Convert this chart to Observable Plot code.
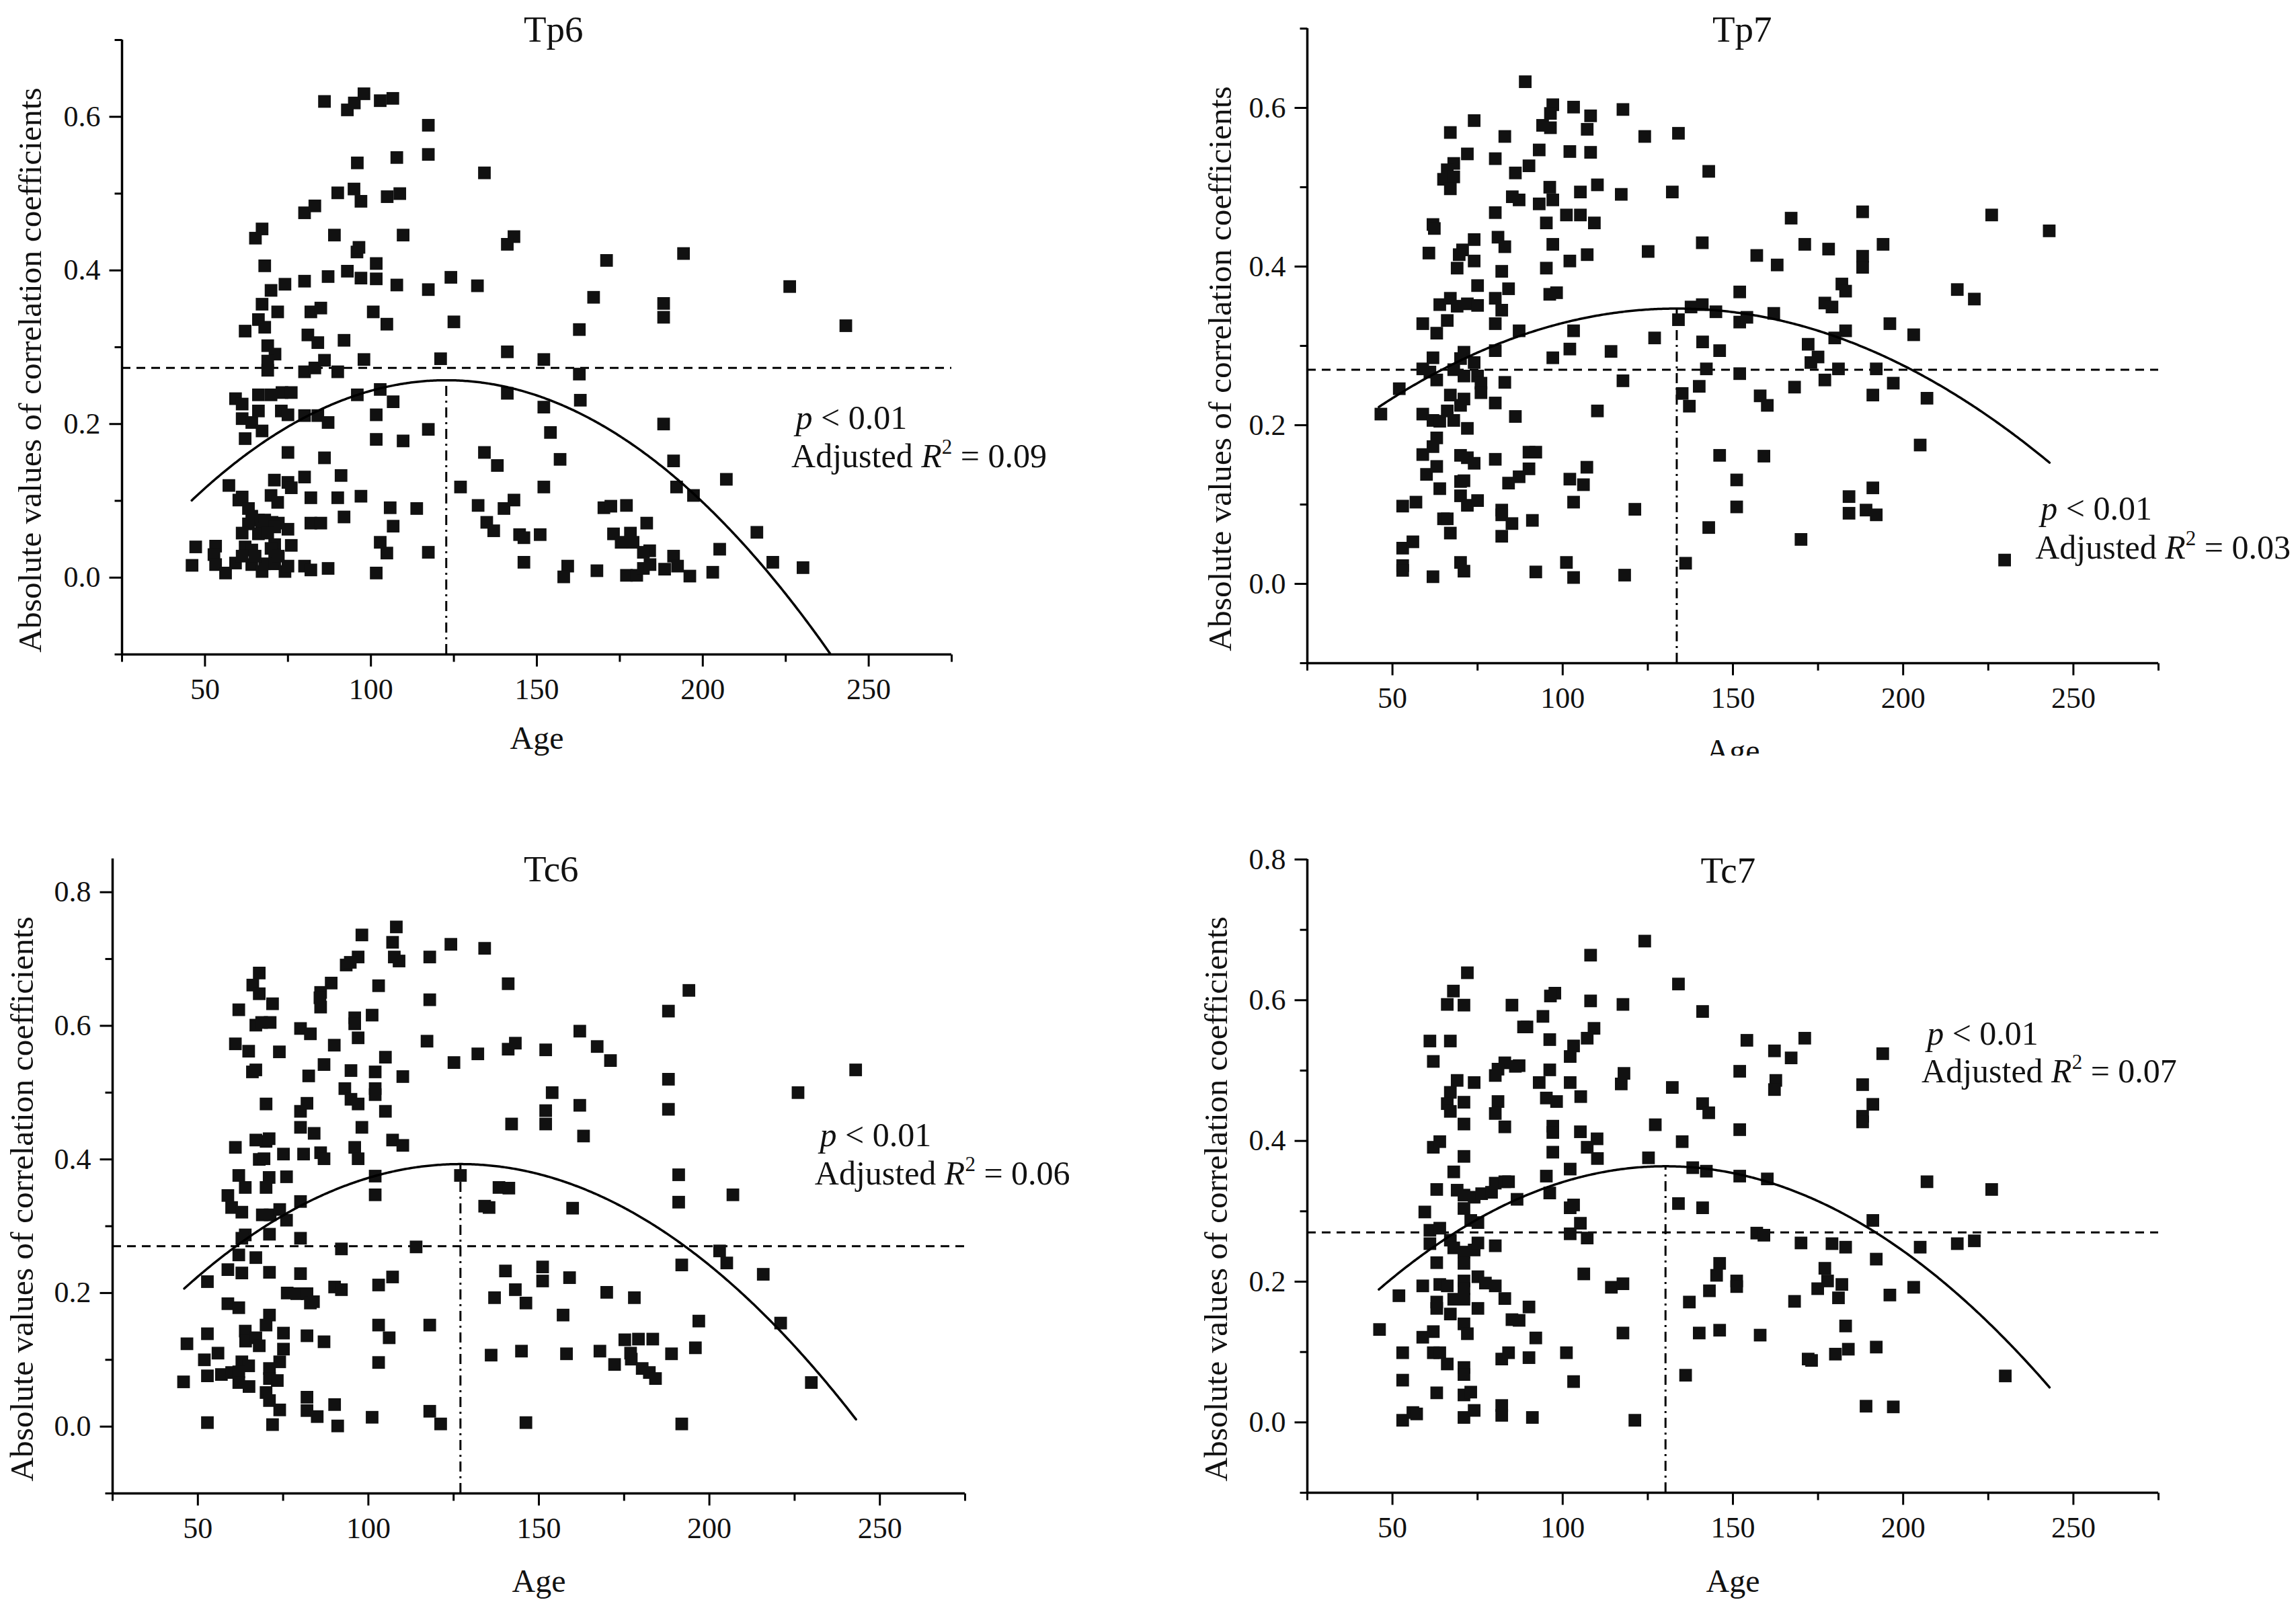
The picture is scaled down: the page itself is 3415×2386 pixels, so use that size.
<!DOCTYPE html>
<html>
<head>
<meta charset="utf-8">
<script src="https://cdn.jsdelivr.net/npm/d3@7"></script>
<script src="https://cdn.jsdelivr.net/npm/@observablehq/plot@0.6"></script>
<style>
html, body { margin: 0; padding: 0; background: #fff; }
#root { position: relative; width: 3415px; height: 2386px; overflow: hidden; background: #fff; }
.panel { position: absolute; }
.panel svg { display: block; overflow: hidden; }
</style>
</head>
<body>
<div id="root"></div>
<script>
// ---------------- DATA (age, absolute correlation) ----------------
const tp6 = [
[86.0,0.620],[92.9,0.609],[95.0,0.618],[97.9,0.630],[102.8,0.621],[106.6,0.624],[117.3,0.589],[117.3,0.551],
[95.9,0.540],[107.8,0.547],[90.0,0.501],[94.9,0.506],[97.0,0.490],[104.9,0.496],[108.7,0.500],[80.0,0.475],
[83.1,0.484],[65.2,0.442],[67.2,0.454],[89.0,0.446],[109.7,0.446],[95.8,0.424],[96.4,0.430],[68.0,0.406],
[101.6,0.409],[92.9,0.399],[97.0,0.390],[101.6,0.389],[107.8,0.381],[80.0,0.386],[87.1,0.392],[69.9,0.374],
[74.1,0.382],[117.3,0.375],[67.2,0.356],[71.9,0.346],[81.9,0.346],[84.9,0.351],[100.7,0.346],[104.8,0.330],
[62.1,0.321],[66.1,0.336],[68.0,0.326],[81.0,0.316],[84.0,0.306],[91.9,0.309],[68.9,0.302],[71.1,0.291],
[68.9,0.282],[68.9,0.270],[80.0,0.268],[83.1,0.273],[86.0,0.283],[90.0,0.268],[97.9,0.284],[59.2,0.233],
[61.2,0.226],[66.1,0.238],[69.9,0.238],[73.2,0.241],[76.0,0.241],[95.9,0.238],[102.8,0.245],[106.7,0.229],
[61.2,0.207],[64.1,0.202],[66.1,0.217],[67.2,0.191],[73.0,0.217],[75.0,0.212],[80.0,0.211],[84.0,0.211],
[87.1,0.202],[62.1,0.181],[101.6,0.212],[101.6,0.180],[109.7,0.178],[117.3,0.193],[75.0,0.163],[86.0,0.156],
[91.0,0.133],[80.0,0.131],[70.9,0.127],[75.0,0.124],[76.0,0.117],[57.2,0.120],[61.2,0.105],[69.9,0.107],
[71.9,0.098],[81.9,0.104],[90.0,0.104],[97.0,0.106],[60.2,0.101],[105.8,0.091],[113.8,0.090],[91.9,0.079],
[81.9,0.071],[84.9,0.071],[106.7,0.067],[63.1,0.090],[64.1,0.080],[66.1,0.075],[68.0,0.075],[70.2,0.072],
[72.1,0.071],[63.1,0.070],[67.0,0.064],[71.0,0.066],[75.0,0.063],[61.2,0.058],[66.1,0.057],[68.9,0.058],
[76.0,0.042],[62.1,0.040],[64.1,0.036],[47.2,0.040],[53.2,0.041],[52.7,0.030],[71.0,0.043],[71.0,0.030],
[102.8,0.046],[104.8,0.032],[117.3,0.033],[46.1,0.016],[53.2,0.017],[56.2,0.006],[59.2,0.019],[64.1,0.017],
[67.2,0.008],[68.0,0.018],[71.0,0.018],[74.1,0.008],[75.0,0.015],[80.0,0.015],[81.9,0.010],[87.1,0.012],
[101.6,0.006],[65.1,0.028],[61.2,0.028],[69.9,0.038],[72.1,0.028],
[134.2,0.527],[143.1,0.444],[141.1,0.434],[171.0,0.413],[194.2,0.422],[124.1,0.391],[132.1,0.380],[167.1,0.365],
[188.2,0.357],[188.2,0.339],[226.2,0.379],[243.1,0.328],[125.0,0.333],[162.8,0.323],[141.1,0.294],[121.0,0.285],
[152.1,0.284],[162.8,0.265],[141.1,0.240],[152.1,0.222],[163.1,0.231],[154.1,0.189],[188.2,0.200],[134.2,0.163],
[138.1,0.146],[157.0,0.154],[191.2,0.152],[127.0,0.118],[152.1,0.118],[192.1,0.118],[197.2,0.107],[207.1,0.128],
[132.3,0.094],[140.1,0.090],[143.1,0.101],[170.2,0.091],[172.3,0.093],[177.0,0.094],[134.9,0.072],[137.0,0.061],
[144.8,0.056],[146.1,0.052],[151.0,0.056],[183.1,0.071],[173.1,0.057],[175.4,0.046],[178.2,0.058],[179.0,0.046],
[184.0,0.035],[182.1,0.033],[205.1,0.037],[216.3,0.059],[146.1,0.020],[159.3,0.015],[158.1,0.001],[168.1,0.009],
[177.0,0.003],[180.1,0.003],[182.1,0.012],[184.1,0.017],[188.5,0.011],[191.2,0.028],[192.4,0.015],[196.1,0.002],
[203.0,0.007],[221.1,0.020],[230.2,0.013]
];

const tp7 = [
[89.0,0.633],[97.1,0.604],[96.4,0.593],[94.1,0.578],[96.4,0.575],[103.2,0.601],[108.2,0.590],[107.2,0.573],
[117.7,0.598],[74.0,0.584],[67.0,0.569],[83.0,0.564],[72.0,0.542],[80.2,0.536],[93.1,0.547],[102.1,0.545],
[108.2,0.544],[68.0,0.530],[66.1,0.522],[65.0,0.510],[68.0,0.513],[67.0,0.498],[86.1,0.518],[90.1,0.527],
[96.2,0.500],[97.1,0.484],[105.2,0.494],[110.2,0.503],[117.2,0.491],[85.2,0.488],[87.2,0.484],[93.1,0.479],
[80.2,0.468],[95.2,0.455],[101.1,0.465],[105.2,0.465],[109.3,0.455],[61.9,0.453],[62.3,0.448],[60.7,0.417],
[74.0,0.434],[81.0,0.437],[83.0,0.425],[70.6,0.421],[69.6,0.415],[74.0,0.407],[69.0,0.398],[82.1,0.394],
[97.1,0.428],[95.2,0.398],[102.1,0.407],[107.2,0.415],[75.0,0.376],[84.1,0.372],[96.2,0.365],[98.2,0.367],
[63.9,0.352],[67.0,0.360],[69.0,0.350],[72.0,0.353],[75.0,0.351],[80.2,0.360],[82.1,0.345],[58.9,0.328],
[63.0,0.316],[66.1,0.332],[80.2,0.328],[87.2,0.319],[103.2,0.319],[80.2,0.294],[61.9,0.285],[71.0,0.292],
[70.0,0.284],[74.0,0.279],[97.1,0.285],[102.1,0.296],[114.2,0.293],[58.9,0.271],[61.0,0.267],[63.0,0.257],
[68.0,0.270],[71.0,0.262],[75.0,0.262],[76.0,0.253],[76.0,0.241],[83.0,0.254],[117.7,0.256],[46.6,0.214],
[52.0,0.246],[67.0,0.238],[71.0,0.233],[70.0,0.225],[80.2,0.228],[86.1,0.211],[110.2,0.218],[58.9,0.214],
[61.9,0.206],[63.9,0.205],[66.1,0.218],[68.0,0.206],[72.0,0.196],[63.0,0.184],[61.9,0.173],[58.9,0.163],
[70.0,0.162],[72.0,0.159],[74.0,0.152],[80.2,0.157],[90.1,0.166],[92.1,0.166],[63.0,0.148],[60.0,0.138],
[70.0,0.129],[71.0,0.130],[90.1,0.145],[87.2,0.135],[84.1,0.127],[107.1,0.147],[102.1,0.132],[106.1,0.125],
[63.9,0.120],[53.0,0.098],[56.9,0.103],[70.0,0.111],[72.0,0.099],[75.0,0.105],[82.1,0.093],[82.1,0.087],
[85.1,0.076],[103.2,0.103],[91.1,0.080],[65.0,0.082],[66.1,0.082],[67.0,0.064],[82.1,0.060],[53.0,0.045],
[56.0,0.053],[53.0,0.023],[53.0,0.017],[61.9,0.009],[70.0,0.027],[71.0,0.016],[92.1,0.015],[101.1,0.027],
[103.2,0.008],[118.2,0.011],
[124.1,0.564],[134.0,0.568],[142.9,0.520],[132.2,0.494],[167.1,0.461],[188.1,0.469],[226.0,0.465],[242.9,0.445],
[125.1,0.419],[141.0,0.430],[157.0,0.414],[163.0,0.402],[171.1,0.428],[178.1,0.422],[188.1,0.413],[188.1,0.399],
[194.1,0.428],[152.0,0.368],[182.0,0.378],[183.1,0.369],[215.9,0.371],[220.9,0.359],[177.0,0.354],[179.1,0.349],
[137.7,0.349],[141.0,0.352],[145.0,0.343],[134.0,0.333],[152.0,0.330],[154.1,0.336],[162.0,0.341],[183.1,0.319],
[179.9,0.310],[127.0,0.310],[141.1,0.305],[146.1,0.294],[172.1,0.302],[175.0,0.286],[172.9,0.279],[196.1,0.328],
[203.1,0.314],[142.2,0.271],[152.0,0.265],[181.0,0.271],[192.1,0.271],[135.1,0.240],[137.2,0.224],[140.1,0.249],
[158.0,0.237],[160.1,0.225],[168.1,0.248],[177.0,0.257],[191.1,0.238],[197.1,0.253],[207.0,0.234],[205.0,0.175],
[146.1,0.162],[159.1,0.161],[151.1,0.131],[151.1,0.097],[121.2,0.094],[184.1,0.110],[184.1,0.089],[189.1,0.093],
[191.1,0.121],[192.1,0.087],[142.9,0.071],[170.0,0.056],[136.1,0.026],[229.8,0.030]
];

const tc6 = [
[108.2,0.748],[98.1,0.736],[107.1,0.725],[107.6,0.703],[109.0,0.697],[97.0,0.703],[93.5,0.691],[94.7,0.695],
[68.0,0.679],[66.1,0.661],[68.0,0.648],[71.9,0.633],[89.1,0.664],[86.0,0.650],[85.8,0.642],[86.0,0.628],
[103.0,0.660],[62.0,0.624],[67.0,0.601],[68.7,0.605],[71.2,0.605],[96.0,0.612],[96.0,0.603],[101.1,0.616],
[80.1,0.596],[83.0,0.588],[97.0,0.582],[61.0,0.573],[64.9,0.562],[73.9,0.561],[90.0,0.571],[105.0,0.553],
[66.0,0.531],[67.0,0.534],[82.5,0.525],[87.0,0.542],[94.9,0.533],[102.0,0.531],[110.1,0.524],[102.0,0.506],
[102.0,0.497],[93.1,0.506],[94.9,0.490],[97.0,0.483],[70.0,0.483],[80.1,0.472],[82.0,0.484],[105.0,0.472],
[80.1,0.448],[84.1,0.439],[98.1,0.448],[61.0,0.418],[67.0,0.429],[70.0,0.427],[70.9,0.431],[107.1,0.429],
[110.1,0.421],[75.1,0.408],[81.0,0.408],[86.0,0.410],[87.0,0.401],[96.0,0.418],[97.0,0.401],[68.0,0.400],
[69.4,0.401],[62.0,0.376],[63.9,0.358],[70.9,0.373],[70.0,0.358],[76.0,0.374],[102.0,0.375],[102.0,0.347],
[58.8,0.346],[59.9,0.328],[62.9,0.321],[68.9,0.317],[71.2,0.317],[74.0,0.325],[76.0,0.309],[80.1,0.337],
[63.9,0.287],[62.9,0.282],[71.0,0.288],[80.1,0.282],[92.1,0.266],[114.0,0.269],[62.0,0.257],[67.0,0.253],
[58.8,0.235],[62.9,0.230],[71.0,0.231],[80.1,0.229],[107.1,0.224],[52.8,0.217],[103.0,0.212],[76.2,0.200],
[79.0,0.199],[82.0,0.199],[83.0,0.185],[83.9,0.187],[90.1,0.209],[92.1,0.205],[58.8,0.184],[62.0,0.178],
[71.0,0.167],[70.0,0.152],[103.0,0.152],[106.1,0.133],[52.8,0.139],[63.9,0.143],[64.0,0.128],[67.0,0.133],
[68.0,0.121],[75.1,0.140],[82.0,0.136],[87.0,0.127],[46.8,0.124],[55.9,0.110],[51.9,0.100],[75.1,0.116],
[74.0,0.097],[62.9,0.097],[64.9,0.091],[103.0,0.096],[52.8,0.076],[56.9,0.078],[59.9,0.081],[62.0,0.082],
[62.0,0.066],[65.0,0.060],[71.0,0.087],[71.0,0.072],[73.3,0.069],[45.8,0.067],[70.0,0.051],[71.0,0.039],
[74.0,0.025],[82.0,0.044],[82.0,0.024],[85.0,0.015],[90.1,0.033],[91.0,0.001],[101.1,0.014],[52.8,0.006],
[71.9,0.003],
[118.0,0.703],[124.2,0.722],[134.1,0.716],[141.0,0.663],[118.0,0.639],[194.0,0.653],[188.0,0.622],[117.2,0.577],
[125.1,0.545],[132.1,0.558],[141.0,0.565],[143.1,0.574],[152.0,0.564],[162.0,0.592],[167.1,0.569],[171.0,0.548],
[188.0,0.520],[188.0,0.475],[226.0,0.500],[242.9,0.534],[153.9,0.500],[152.0,0.473],[152.0,0.453],[162.0,0.481],
[142.0,0.453],[163.1,0.435],[127.0,0.376],[191.0,0.377],[191.0,0.336],[206.9,0.347],[138.3,0.358],[141.2,0.357],
[134.1,0.330],[135.4,0.328],[159.9,0.327],[203.0,0.263],[205.1,0.245],[191.9,0.242],[215.8,0.228],[140.2,0.233],
[151.1,0.239],[151.1,0.218],[159.0,0.223],[137.0,0.193],[143.1,0.205],[146.2,0.185],[169.9,0.201],[178.0,0.193],
[157.1,0.167],[196.9,0.158],[118.0,0.152],[220.9,0.155],[229.9,0.066],[136.0,0.107],[144.9,0.113],[158.1,0.109],
[167.9,0.113],[175.2,0.130],[179.2,0.131],[183.4,0.131],[176.9,0.110],[172.2,0.093],[177.1,0.101],[180.3,0.087],
[182.4,0.081],[184.2,0.072],[188.9,0.109],[195.9,0.118],[118.0,0.023],[121.2,0.004],[146.2,0.006],[191.9,0.004]
];

const tc7 = [
[108.2,0.664],[72.0,0.639],[67.9,0.613],[66.1,0.594],[71.0,0.593],[85.1,0.593],[97.7,0.610],[96.4,0.606],
[108.2,0.599],[117.7,0.594],[89.5,0.562],[88.5,0.562],[94.2,0.577],[109.2,0.560],[107.2,0.546],[61.0,0.542],
[67.0,0.542],[96.2,0.544],[62.0,0.513],[103.2,0.535],[102.2,0.520],[83.0,0.511],[86.1,0.506],[87.2,0.507],
[81.0,0.502],[80.2,0.493],[96.2,0.501],[69.0,0.486],[74.0,0.483],[93.1,0.483],[102.2,0.483],[118.0,0.496],
[117.2,0.481],[67.0,0.469],[66.1,0.453],[71.0,0.455],[67.0,0.442],[81.0,0.456],[80.2,0.439],[95.2,0.461],
[98.2,0.456],[105.3,0.463],[71.0,0.424],[83.0,0.420],[97.1,0.421],[97.1,0.412],[105.2,0.413],[110.1,0.403],
[62.0,0.391],[63.9,0.399],[107.2,0.391],[97.1,0.384],[110.2,0.375],[71.0,0.378],[68.0,0.356],[102.2,0.360],
[95.2,0.350],[63.0,0.331],[69.0,0.330],[71.0,0.323],[74.0,0.320],[76.2,0.325],[79.1,0.327],[80.2,0.340],
[83.0,0.342],[84.1,0.342],[96.2,0.326],[86.6,0.317],[102.2,0.305],[103.2,0.309],[59.5,0.299],[71.0,0.304],
[73.0,0.287],[75.1,0.284],[61.0,0.273],[63.9,0.276],[105.2,0.283],[102.2,0.268],[107.2,0.262],[61.0,0.254],
[67.0,0.259],[68.0,0.248],[71.0,0.242],[74.0,0.245],[75.1,0.255],[80.2,0.251],[71.0,0.226],[63.0,0.227],
[106.2,0.211],[58.9,0.194],[63.9,0.196],[66.1,0.194],[71.0,0.201],[71.0,0.190],[75.1,0.207],[77.3,0.198],
[80.2,0.194],[114.3,0.192],[117.7,0.197],[51.9,0.180],[63.0,0.171],[63.0,0.162],[68.0,0.175],[71.0,0.175],
[75.1,0.162],[83.0,0.176],[67.0,0.154],[90.1,0.164],[85.1,0.146],[87.2,0.145],[71.0,0.140],[72.0,0.126],
[46.2,0.132],[58.9,0.121],[62.0,0.129],[92.1,0.120],[117.7,0.127],[53.0,0.099],[62.0,0.099],[63.9,0.099],
[66.1,0.083],[82.1,0.090],[84.1,0.099],[90.1,0.092],[101.1,0.099],[71.0,0.078],[71.0,0.068],[53.0,0.060],
[103.2,0.058],[63.0,0.042],[71.0,0.039],[73.0,0.043],[53.0,0.003],[56.0,0.014],[57.1,0.012],[71.0,0.007],
[74.0,0.017],[82.1,0.024],[82.1,0.010],[91.1,0.007],
[124.1,0.684],[134.0,0.623],[141.1,0.584],[154.1,0.543],[171.1,0.546],[162.2,0.528],[167.1,0.518],[194.0,0.524],
[132.2,0.476],[152.0,0.499],[162.6,0.486],[162.2,0.473],[188.1,0.480],[191.1,0.452],[188.1,0.435],[188.1,0.427],
[141.1,0.453],[142.9,0.440],[152.0,0.416],[127.2,0.423],[135.1,0.399],[125.2,0.376],[138.2,0.362],[142.2,0.357],
[152.0,0.350],[160.1,0.346],[207.0,0.342],[226.0,0.331],[134.0,0.311],[141.1,0.305],[191.1,0.287],[157.0,0.269],
[159.1,0.266],[170.0,0.255],[179.1,0.254],[183.1,0.249],[205.0,0.249],[215.9,0.254],[220.9,0.258],[192.1,0.232],
[146.1,0.226],[145.2,0.209],[151.1,0.201],[151.1,0.193],[143.1,0.187],[177.0,0.219],[177.8,0.201],[174.9,0.190],
[182.0,0.196],[181.0,0.177],[196.1,0.181],[203.1,0.192],[137.2,0.171],[168.1,0.172],[140.1,0.127],[146.1,0.131],
[158.0,0.124],[183.1,0.137],[192.1,0.107],[183.9,0.104],[180.1,0.097],[172.1,0.090],[173.1,0.088],[136.1,0.067],
[230.0,0.066],[121.2,0.003],[189.1,0.023],[197.1,0.022]
];

// Quadratic fit (vertex form) for each panel: Tp6, Tp7, Tc6, Tc7
const panelNames   = ["Tp6", "Tp7", "Tc6", "Tc7"];
const fitVertexAge = [122.7, 133.5, 127.0, 130.2];
const fitVertexAbs = [0.257, 0.347, 0.393, 0.364];
const fitCurvature = [2.66e-5, 1.62e-5, 2.84e-5, 2.47e-5];
const fitAgeRange  = [46, 243];
const thresholds   = [0.273, 0.27, 0.27, 0.27];
const adjustedR2   = ["0.09", "0.03", "0.06", "0.07"];
const pValueText   = "p < 0.01";

// Axis ticks
const xTicksMajor = [50, 100, 150, 200, 250];
const xTicksMinor = [25, 75, 125, 175, 225, 275];
const yTicksMajorP = [0, 0.2, 0.4, 0.6];
const yTicksMajorC = [0, 0.2, 0.4, 0.6, 0.8];
const yTicksMinor  = [-0.1, 0.1, 0.3, 0.5, 0.7];
const xDomain = [25, 275];

// ---------------- LAYOUT ----------------
const FONT = "'Liberation Serif', 'Times New Roman', Times, serif";
const layout = [
  {data: tp6, left: 0,    top: 0,    width: 1708, height: 1193, mL: 181, mT: 59, mR: 293, mB: 220,
   yDomain: [-0.1, 0.7], yMajor: yTicksMajorP, titleX: 155, titleDy: 2, yLabDx: -136, ageDy: 140,
   ann: [[228.0, 0.194], [226.7, 0.144]]},
  {data: tp7, left: 1707, top: 0,    width: 1708, height: 1124, mL: 237, mT: 42, mR: 205, mB: 138,
   yDomain: [-0.1, 0.7], yMajor: yTicksMajorP, titleX: 152.7, titleDy: 19, yLabDx: -129, ageDy: 146,
   ann: [[240.4, 0.081], [238.8, 0.032]]},
  {data: tc6, left: 0,    top: 1193, width: 1708, height: 1193, mL: 167, mT: 84, mR: 273, mB: 165,
   yDomain: [-0.1, 0.85], yMajor: yTicksMajorC, titleX: 153.6, titleDy: 33, yLabDx: -134, ageDy: 146,
   ann: [[232.4, 0.420], [230.9, 0.362]]},
  {data: tc7, left: 1707, top: 1193, width: 1708, height: 1193, mL: 237, mT: 85, mR: 205, mB: 166,
   yDomain: [-0.1, 0.8], yMajor: yTicksMajorC, titleX: 148.6, titleDy: 34, yLabDx: -135, ageDy: 147,
   ann: [[207.0, 0.537], [205.4, 0.483]]}
];

function lineSymbol(dx, dy) {
  return { draw(ctx) { ctx.moveTo(0, 0); ctx.lineTo(dx, dy); } };
}

function styleAnnotations(svg, fs) {
  d3.select(svg).selectAll("text").each(function () {
    const t = this.textContent;
    const s = d3.select(this);
    if (t.startsWith("p < ")) {
      s.text(null);
      s.append("tspan").attr("font-style", "italic").text("p");
      s.append("tspan").text(" " + t.slice(2));
    } else if (t.startsWith("Adjusted R2")) {
      const rest = t.slice("Adjusted R2".length);
      s.text(null);
      s.append("tspan").text("Adjusted ");
      s.append("tspan").attr("font-style", "italic").text("R");
      s.append("tspan").attr("font-size", Math.round(fs * 0.62)).attr("dy", -Math.round(fs * 0.40)).text("2");
      s.append("tspan").attr("dy", Math.round(fs * 0.40)).text(rest);
    }
  });
}

const root = document.getElementById("root");

layout.forEach((cfg, i) => {
  const pts = cfg.data.map(([age, r]) => ({age, r}));
  const y0 = cfg.yDomain[0], y1 = cfg.yDomain[1];
  const h = fitVertexAge[i], k = fitVertexAbs[i], a = fitCurvature[i];
  const curve = [];
  for (let x = fitAgeRange[0]; x <= fitAgeRange[1] + 1e-9; x += 0.5) {
    const y = k - a * (x - h) * (x - h);
    if (y >= y0) curve.push({age: x, r: y});
  }
  const annData = [
    {age: cfg.ann[0][0], r: cfg.ann[0][1], t: pValueText},
    {age: cfg.ann[1][0], r: cfg.ann[1][1], t: "Adjusted R2 = " + adjustedR2[i]}
  ];
  const yMinor = yTicksMinor.filter(v => v >= y0 - 1e-9 && v <= y1 + 1e-9);
  const T = {fontFamily: FONT, fill: "#111"};

  const svg = Plot.plot({
    width: cfg.width,
    height: cfg.height,
    marginLeft: cfg.mL, marginTop: cfg.mT, marginRight: cfg.mR, marginBottom: cfg.mB,
    x: {domain: xDomain, axis: null},
    y: {domain: cfg.yDomain, axis: null},
    style: {fontFamily: FONT, background: "#fff", color: "#000", overflow: "hidden"},
    marks: [
      Plot.ruleY([thresholds[i]], {x1: xDomain[0], x2: xDomain[1], stroke: "#000", strokeWidth: 3, strokeDasharray: "13,9"}),
      Plot.ruleX([h], {y1: y0, y2: k, stroke: "#000", strokeWidth: 3, strokeDasharray: "15,7,3,7"}),
      Plot.dot(pts, {x: "age", y: "r", symbol: "square", r: 10.6, fill: "#111", stroke: "none"}),
      Plot.line(curve, {x: "age", y: "r", stroke: "#000", strokeWidth: 3.5}),
      Plot.ruleX([xDomain[0]], {y1: y0, y2: y1, stroke: "#000", strokeWidth: 3.5}),
      Plot.ruleY([y0], {x1: xDomain[0], x2: xDomain[1], stroke: "#000", strokeWidth: 3.5}),
      Plot.dot(cfg.yMajor, {x: () => xDomain[0], y: d => d, symbol: lineSymbol(-19, 0), stroke: "#000", strokeWidth: 3, fill: "none"}),
      Plot.dot(yMinor, {x: () => xDomain[0], y: d => d, symbol: lineSymbol(-11, 0), stroke: "#000", strokeWidth: 3, fill: "none"}),
      Plot.dot(xTicksMajor, {x: d => d, y: () => y0, symbol: lineSymbol(0, 18), stroke: "#000", strokeWidth: 3, fill: "none"}),
      Plot.dot(xTicksMinor, {x: d => d, y: () => y0, symbol: lineSymbol(0, 11), stroke: "#000", strokeWidth: 3, fill: "none"}),
      Plot.text(cfg.yMajor, {...T, x: () => xDomain[0], y: d => d, text: d => d.toFixed(1), textAnchor: "end", lineAnchor: "middle", dx: -32, fontSize: 44}),
      Plot.text(xTicksMajor, {...T, x: d => d, y: () => y0, text: d => String(d), textAnchor: "middle", lineAnchor: "bottom", dy: 66, fontSize: 44}),
      Plot.text([panelNames[i]], {...T, x: () => cfg.titleX, frameAnchor: "top", text: d => d, dy: cfg.titleDy, lineAnchor: "bottom", fontSize: 55}),
      Plot.text(["Age"], {...T, frameAnchor: "bottom", text: d => d, dy: cfg.ageDy, lineAnchor: "bottom", fontSize: 48}),
      Plot.text(["Absolute values of correlation coefficients"], {...T, frameAnchor: "left", text: d => d, rotate: -90, dx: cfg.yLabDx, dy: 34, lineAnchor: "middle", textAnchor: "middle", fontSize: 49.5}),
      Plot.text(annData, {...T, x: "age", y: "r", text: "t", textAnchor: "start", lineAnchor: "bottom", fontSize: 50})
    ]
  });
  styleAnnotations(svg, 50);
  const div = document.createElement("div");
  div.className = "panel";
  div.style.left = cfg.left + "px";
  div.style.top = cfg.top + "px";
  div.appendChild(svg);
  root.appendChild(div);
});
</script>
</body>
</html>
